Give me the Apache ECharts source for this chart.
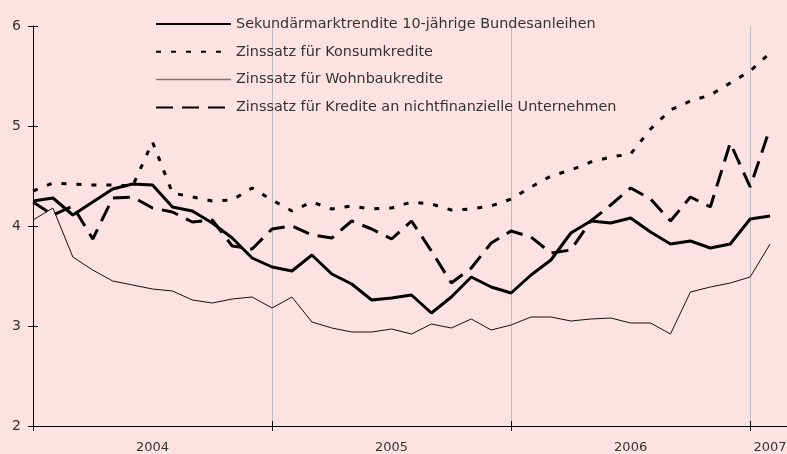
<!DOCTYPE html>
<html>
<head>
<meta charset="utf-8">
<script src="https://cdn.jsdelivr.net/npm/echarts@6/dist/echarts.min.js"></script>
<style>
  html, body { margin: 0; padding: 0; background: #fde2e4; }
  #chart { width: 787px; height: 454px; }
</style>
</head>
<body>
<div id="chart"></div>
<script>
// monthly observations, Jan 2004 - Feb 2007
let months = [
  "2004-01", "2004-02", "2004-03", "2004-04", "2004-05", "2004-06", "2004-07", "2004-08", "2004-09", "2004-10", "2004-11", "2004-12",
  "2005-01", "2005-02", "2005-03", "2005-04", "2005-05", "2005-06", "2005-07", "2005-08", "2005-09", "2005-10", "2005-11", "2005-12",
  "2006-01", "2006-02", "2006-03", "2006-04", "2006-05", "2006-06", "2006-07", "2006-08", "2006-09", "2006-10", "2006-11", "2006-12",
  "2007-01", "2007-02"
];
let years = ["2004", "2005", "2006", "2007"];

let bund = [4.25, 4.28, 4.11, 4.24, 4.37, 4.42, 4.41, 4.19, 4.15, 4.03,
  3.88, 3.68, 3.59, 3.55, 3.71, 3.52, 3.42, 3.26, 3.28, 3.31,
  3.13, 3.29, 3.49, 3.39, 3.33, 3.51, 3.66, 3.93, 4.05, 4.03,
  4.08, 3.94, 3.82, 3.85, 3.78, 3.82, 4.07, 4.10];
let konsum = [4.35, 4.43, 4.42, 4.41, 4.41, 4.40, 4.84, 4.33, 4.29, 4.25,
  4.26, 4.38, 4.26, 4.15, 4.24, 4.17, 4.20, 4.17, 4.18, 4.24,
  4.22, 4.16, 4.17, 4.20, 4.27, 4.39, 4.50, 4.56, 4.64, 4.69,
  4.72, 4.97, 5.16, 5.25, 5.31, 5.43, 5.55, 5.73];
let wohnbau = [4.06, 4.18, 3.69, 3.56, 3.45, 3.41, 3.37, 3.35, 3.26, 3.23,
  3.27, 3.29, 3.18, 3.29, 3.04, 2.98, 2.94, 2.94, 2.97, 2.92,
  3.02, 2.98, 3.07, 2.96, 3.01, 3.09, 3.09, 3.05, 3.07, 3.08,
  3.03, 3.03, 2.92, 3.34, 3.39, 3.43, 3.49, 3.82];
let unternehmen = [4.24, 4.11, 4.20, 3.87, 4.28, 4.29, 4.18, 4.14, 4.04, 4.06,
  3.80, 3.77, 3.97, 4.00, 3.91, 3.88, 4.05, 3.97, 3.87, 4.05,
  3.75, 3.43, 3.58, 3.83, 3.95, 3.89, 3.73, 3.76, 4.05, 4.21,
  4.38, 4.27, 4.05, 4.29, 4.19, 4.83, 4.39, 4.98];

let xMax = 38;
let font = "DejaVu Sans";

// pair each value with its month index
function toPoints(arr) {
  return arr.map((v, i) => [i, v]);
}

// year label goes in the middle of the months of that year that fit on the axis
let yearPos = {};
years.forEach((y) => {
  let first = months.findIndex((m) => m.startsWith(y));
  let end = Math.min(first + 12, xMax);
  yearPos[Math.round((first + end) / 2)] = y;
});

let chart = echarts.init(document.getElementById("chart"));

let xBase = {
  type: "value",
  position: "bottom",
  min: 0,
  max: xMax,
  interval: 12,
  gridIndex: 0,
};

chart.setOption({
  animation: false,
  backgroundColor: "#fde2e4",
  textStyle: { fontFamily: font },
  grid: {
    left: 33,
    right: -3,
    top: 26,
    bottom: 28,
    containLabel: false,
    outerBoundsMode: "none",
  },
  legend: {
    orient: "vertical",
    left: 155,
    top: 17,
    padding: 0,
    itemWidth: 75,
    itemHeight: 14,
    itemGap: 13.8,
    // hide the marker circle, keep the line
    itemStyle: { color: "rgba(0,0,0,0)", borderWidth: 0, opacity: 0 },
    textStyle: { fontSize: 14.4, color: "#333", fontFamily: font },
    data: [
      "Sekundärmarktrendite 10-jährige Bundesanleihen",
      "Zinssatz für Konsumkredite",
      { name: "Zinssatz für Wohnbaukredite", lineStyle: { color: "#777", width: 1.5 } },
      "Zinssatz für Kredite an nichtfinanzielle Unternehmen",
    ],
  },
  xAxis: [
    Object.assign({}, xBase, {
      axisLine: { show: true, onZero: false, lineStyle: { color: "#000", width: 1 } },
      axisTick: { show: true, length: 5, lineStyle: { color: "#000" } },
      axisLabel: { show: false },
      splitLine: { show: true, lineStyle: { color: "#bdbdbd", width: 1 } },
    }),
    Object.assign({}, xBase, {
      axisLine: { show: false, onZero: false },
      axisTick: { show: true, inside: true, length: 5, lineStyle: { color: "#000" } },
      axisLabel: { show: false },
      splitLine: { show: false },
    }),
    Object.assign({}, xBase, {
      interval: 1,
      axisLine: { show: false, onZero: false },
      axisTick: { show: false },
      splitLine: { show: false },
      axisLabel: {
        show: true,
        margin: 15,
        fontSize: 13,
        color: "#333",
        fontFamily: font,
        showMinLabel: true,
        showMaxLabel: true,
        formatter: (v) => yearPos[v] || "",
      },
    }),
  ],
  yAxis: [
    {
      type: "value",
      min: 2,
      max: 6,
      interval: 1,
      axisLine: { show: true, lineStyle: { color: "#000", width: 1 } },
      axisTick: { show: true, length: 5, lineStyle: { color: "#000" } },
      axisLabel: { margin: 12, fontSize: 14, color: "#333", fontFamily: font },
      splitLine: { show: false },
    },
    {
      type: "value",
      position: "left",
      min: 2,
      max: 6,
      interval: 1,
      axisLine: { show: false },
      axisTick: { show: true, inside: true, length: 5, lineStyle: { color: "#000" } },
      axisLabel: { show: false },
      splitLine: { show: false },
    },
  ],
  series: [
    {
      name: "Sekundärmarktrendite 10-jährige Bundesanleihen",
      type: "line",
      symbol: "none",
      lineStyle: { color: "#000", width: 3, type: "solid" },
      itemStyle: { color: "#000" },
      data: toPoints(bund),
    },
    {
      name: "Zinssatz für Konsumkredite",
      type: "line",
      symbol: "none",
      lineStyle: { color: "#000", width: 3, type: [5, 10] },
      itemStyle: { color: "#000" },
      data: toPoints(konsum),
    },
    {
      name: "Zinssatz für Wohnbaukredite",
      type: "line",
      symbol: "none",
      lineStyle: { color: "#111", width: 1, type: "solid" },
      itemStyle: { color: "#111" },
      data: toPoints(wohnbau),
    },
    {
      name: "Zinssatz für Kredite an nichtfinanzielle Unternehmen",
      type: "line",
      symbol: "none",
      lineStyle: { color: "#000", width: 3, type: [17, 9] },
      itemStyle: { color: "#000" },
      data: toPoints(unternehmen),
    },
  ],
});
</script>
</body>
</html>
